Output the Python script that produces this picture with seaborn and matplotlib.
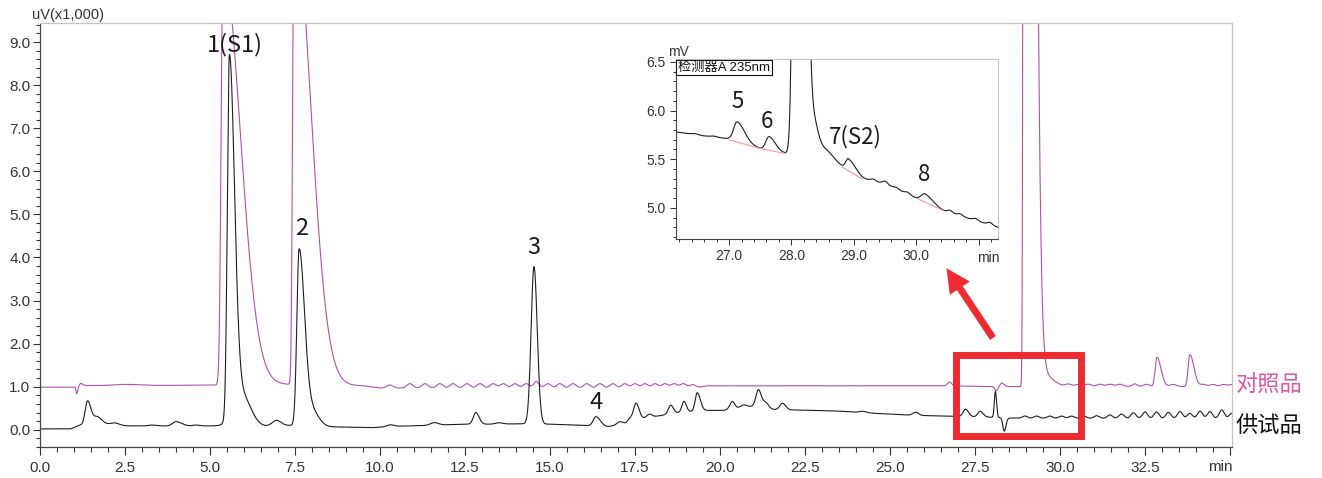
import numpy as np
import pandas as pd
import matplotlib
matplotlib.use("Agg")
import matplotlib.pyplot as plt
from matplotlib.ticker import MultipleLocator, FixedLocator, FuncFormatter
from matplotlib.patches import Rectangle, FancyArrow
from matplotlib.transforms import IdentityTransform
import seaborn as sns

sns.set_style("ticks")
plt.rcParams["font.family"] = ["Liberation Sans", "Noto Sans CJK SC", "DejaVu Sans"]

# ---------------- 供试品 (sample) chromatogram, uV x1,000 ----------------
smp_base_t = [0.0, 0.9, 1.15, 1.3, 2.0, 2.6, 3.5, 5.2, 6.6, 7.35, 8.4, 9.8, 10.4, 11.4,
              12.4, 13.2, 14.3, 15.0, 16.0, 16.7, 17.2, 17.7, 18.1, 18.8, 19.5, 20.1,
              20.6, 21.0, 21.6, 22.2, 23.3, 24.6, 25.3, 26.0, 27.0, 28.0, 28.6, 35.06]
smp_base_v = [0.02, 0.02, 0.10, 0.12, 0.12, 0.09, 0.09, 0.09, 0.08, 0.10, 0.07, 0.05, 0.08, 0.10,
              0.13, 0.13, 0.14, 0.13, 0.10, 0.07, 0.15, 0.25, 0.31, 0.40, 0.45, 0.45,
              0.52, 0.55, 0.47, 0.46, 0.44, 0.38, 0.35, 0.33, 0.31, 0.29, 0.27, 0.26]
smp_pk_t = [1.40, 1.68, 2.20, 3.30, 4.00, 4.60, 5.57, 5.95, 6.95, 7.62, 8.00, 10.30, 11.60,
            12.82, 13.50, 14.53, 16.35, 17.05, 17.35, 17.53, 17.92, 18.55, 18.94, 19.33,
            20.36, 20.70, 21.13, 21.35, 21.84, 24.20, 25.76, 27.22, 27.65, 28.10, 28.36]
smp_pk_h = [0.55, 0.18, 0.05, 0.02, 0.10, 0.02, 8.40, 0.70, 0.13, 4.05, 0.35, 0.04, 0.06,
            0.27, 0.03, 3.65, 0.22, 0.06, 0.08, 0.40, 0.08, 0.20, 0.25, 0.42,
            0.17, 0.05, 0.40, 0.12, 0.15, 0.03, 0.07, 0.17, 0.13, 0.60, -0.31]
smp_pk_wl = [0.07, 0.10, 0.12, 0.10, 0.10, 0.10, 0.059, 0.25, 0.12, 0.065, 0.20, 0.10, 0.12,
             0.075, 0.10, 0.085, 0.08, 0.08, 0.06, 0.075, 0.08, 0.07, 0.06, 0.06,
             0.07, 0.08, 0.07, 0.07, 0.08, 0.10, 0.08, 0.07, 0.07, 0.03, 0.04]
smp_pk_wr = [0.10, 0.14, 0.12, 0.10, 0.16, 0.10, 0.15, 0.25, 0.14, 0.16, 0.20, 0.10, 0.12,
             0.095, 0.10, 0.095, 0.13, 0.08, 0.06, 0.09, 0.08, 0.08, 0.07, 0.09,
             0.07, 0.08, 0.09, 0.08, 0.09, 0.10, 0.08, 0.09, 0.09, 0.035, 0.05]
# baseline ripple crests after 28.5 min
smp_rip_t = [28.97, 29.31, 29.70, 30.05, 30.34, 30.70, 31.08, 31.47, 31.81, 32.16, 32.50,
             32.84, 33.19, 33.53, 33.82, 34.12, 34.41, 34.76, 35.05]
smp_rip_h = [0.05, 0.05, 0.05, 0.05, 0.05, 0.05, 0.06, 0.08, 0.10, 0.13, 0.15,
             0.15, 0.14, 0.16, 0.12, 0.17, 0.16, 0.20, 0.12]

# ---------------- 对照品 (reference) chromatogram ----------------
ref_base_t = [0.0, 1.0, 1.3, 2.0, 5.2, 7.3, 9.5, 10.0, 19.3, 19.6, 26.5, 28.8, 30.2, 35.06]
ref_base_v = [0.99, 0.99, 1.03, 1.02, 1.04, 1.05, 1.02, 0.97, 0.97, 1.02, 1.02, 1.00, 1.01, 1.00]
ref_pk_t = [1.08, 1.20, 2.50, 5.38, 7.47, 14.60, 26.75, 28.12, 28.29, 28.97, 29.55,
            32.20, 32.85, 33.82]
ref_pk_h = [-0.16, 0.06, 0.03, 9.70, 10.80, 0.05, 0.09, -0.10, 0.08, 100.0, 0.25,
            0.06, 0.68, 0.74]
ref_pk_wl = [0.02, 0.04, 0.40, 0.053, 0.04, 0.06, 0.06, 0.04, 0.05, 0.03, 0.15,
             0.07, 0.05, 0.05]
ref_pk_wr = [0.03, 0.05, 0.40, 0.51, 0.49, 0.06, 0.06, 0.05, 0.06, 0.18, 0.25,
             0.07, 0.12, 0.12]
ref_rip_t = [10.29, 10.88, 11.32, 11.76, 12.15, 12.56, 12.94, 13.33, 13.63, 13.97, 14.30,
             14.60, 14.94, 15.29, 15.68, 16.08, 16.47, 16.85, 17.20, 17.50, 17.79, 18.09,
             18.38, 18.65, 18.92, 19.20,
             30.25, 30.55, 30.83, 31.18, 31.47, 31.76, 32.55, 33.33, 34.22, 34.50, 34.80, 35.05]
ref_rip_h = [0.07, 0.10, 0.10, 0.10, 0.10, 0.10, 0.10, 0.10, 0.10, 0.10, 0.10,
             0.10, 0.10, 0.10, 0.10, 0.10, 0.10, 0.10, 0.10, 0.10, 0.10, 0.10,
             0.10, 0.10, 0.10, 0.08,
             0.05, 0.05, 0.05, 0.05, 0.05, 0.05, 0.05, 0.05, 0.05, 0.05, 0.05, 0.05]

# ---------------- enlarged detail, 检测器A 235nm, mV ----------------
ins_base_t = [26.15, 26.6, 27.0, 27.5, 27.9, 28.3, 28.6, 28.81, 29.13, 29.5, 30.0, 30.44, 30.8, 31.31]
ins_base_v = [5.78, 5.74, 5.71, 5.61, 5.56, 5.53, 5.48, 5.42, 5.30, 5.25, 5.10, 4.97, 4.90, 4.80]
ins_pk_t = [26.45, 26.75, 27.13, 27.64, 28.12, 28.35, 28.50, 28.91, 29.31, 29.50, 29.68,
            29.86, 30.14, 30.54, 30.70, 30.95, 31.18]
ins_pk_h = [0.01, 0.01, 0.20, 0.14, 20.0, 0.30, 0.12, 0.12, 0.02, 0.025, 0.015,
            0.02, 0.085, 0.025, 0.02, 0.02, 0.025]
ins_pk_wl = [0.05, 0.05, 0.055, 0.05, 0.053, 0.07, 0.15, 0.04, 0.04, 0.04, 0.04,
             0.04, 0.06, 0.04, 0.04, 0.04, 0.04]
ins_pk_wr = [0.05, 0.05, 0.12, 0.10, 0.075, 0.07, 0.15, 0.12, 0.04, 0.04, 0.04,
             0.04, 0.12, 0.04, 0.04, 0.04, 0.04]
# integration baselines drawn under peaks 5-8
ins_bl_t = [[27.0, 27.5], [27.5, 27.9], [28.81, 29.13], [30.0, 30.44]]
ins_bl_v = [[5.70, 5.61], [5.61, 5.56], [5.42, 5.30], [5.10, 4.97]]

main_labels = ["1(S1)", "2", "3", "4"]
main_label_t = [5.74, 7.68, 14.53, 16.35]
main_label_y = [8.95, 4.67, 4.23, 0.63]
ins_labels = ["5", "6", "7(S2)", "8"]
ins_label_t = [27.14, 27.60, 29.02, 30.13]
ins_label_y = [6.09, 5.89, 5.73, 5.34]


def chromatogram(t, base_t, base_v, pk_t, pk_h, pk_wl, pk_wr):
    """Baseline plus a sum of bi-Gaussian peaks."""
    y = np.interp(t, base_t, base_v)
    for c, h, a, b in zip(pk_t, pk_h, pk_wl, pk_wr):
        s = np.where(t < c, a, b)
        y = y + h * np.exp(-0.5 * ((t - c) / s) ** 2)
    return y


t = np.arange(0.0, 35.06, 0.004)
y_smp = chromatogram(t, smp_base_t, smp_base_v,
                     smp_pk_t + smp_rip_t, smp_pk_h + smp_rip_h,
                     smp_pk_wl + [0.075] * len(smp_rip_t), smp_pk_wr + [0.075] * len(smp_rip_t))
y_ref = chromatogram(t, ref_base_t, ref_base_v,
                     ref_pk_t + ref_rip_t, ref_pk_h + ref_rip_h,
                     ref_pk_wl + [0.09] * len(ref_rip_t), ref_pk_wr + [0.09] * len(ref_rip_t))

df = pd.concat([
    pd.DataFrame({"t": t, "v": y_ref, "trace": "对照品"}),
    pd.DataFrame({"t": t, "v": y_smp, "trace": "供试品"}),
])

ti = np.arange(26.15, 31.31, 0.002)
yi = chromatogram(ti, ins_base_t, ins_base_v, ins_pk_t, ins_pk_h, ins_pk_wl, ins_pk_wr)

W, H = 1322, 478
fig = plt.figure(figsize=(W / 100, H / 100), dpi=100)
fig.patch.set_facecolor("white")

# ---------------- main axes ----------------
ax = fig.add_axes([40 / W, 31 / H, 1192 / W, (447 - 22.7) / H])
sns.lineplot(data=df, x="t", y="v", hue="trace", hue_order=["对照品", "供试品"],
             palette={"对照品": "#b050b0", "供试品": "#1e1e1e"}, linewidth=0.8,
             legend=False, ax=ax, estimator=None, sort=False)
ax.set_xlim(0, 35.06)
ax.set_ylim(-0.4, 9.45)
ax.set_xlabel("")
ax.set_ylabel("")
ax.xaxis.set_major_locator(MultipleLocator(2.5))
ax.xaxis.set_minor_locator(MultipleLocator(0.5))
ax.yaxis.set_major_locator(FixedLocator(np.arange(0, 10)))
ax.yaxis.set_minor_locator(MultipleLocator(0.2))
ax.xaxis.set_major_formatter(FuncFormatter(lambda v, p: "" if v > 34 else f"{v:.1f}"))
ax.yaxis.set_major_formatter(FuncFormatter(lambda v, p: f"{v:.1f}"))
ax.tick_params(axis="both", which="both", direction="out", color="#333333",
               labelcolor="#333333", labelsize=11, width=0.8,
               bottom=True, left=True, top=False, right=False)
ax.tick_params(axis="x", which="major", length=5.8, pad=4)
ax.tick_params(axis="x", which="minor", length=3.5)
ax.tick_params(axis="y", which="major", length=5, pad=2)
ax.tick_params(axis="y", which="minor", length=3)
for side in ("left", "bottom"):
    ax.spines[side].set_color("#444444")
    ax.spines[side].set_linewidth(0.9)
for side in ("top", "right"):
    ax.spines[side].set_visible(True)
    ax.spines[side].set_color("#c4c4c4")
    ax.spines[side].set_linewidth(0.9)

pk_font = dict(family=["Noto Sans CJK SC", "DejaVu Sans"], color="#1a1a1a")
cjk_font = dict(family=["Noto Sans CJK SC", "DejaVu Sans"])
for s, x, y in zip(main_labels, main_label_t, main_label_y):
    ax.text(x, y, s, ha="center", va="center", fontsize=17, **pk_font)

fig.text(32 / W, 1 - 15 / H, "uV(x1,000)", ha="left", va="center", fontsize=10.5, color="#333333")
fig.text(1220 / W, 1 - 467 / H, "min", ha="center", va="center", fontsize=11, color="#333333")
fig.text(1236 / W, 1 - 385 / H, "对照品", ha="left", va="center", fontsize=16,
         color="#e0559f", **cjk_font)
fig.text(1236 / W, 1 - 425 / H, "供试品", ha="left", va="center", fontsize=16,
         color="#111111", **cjk_font)

# ---------------- enlarged detail axes ----------------
ax2 = fig.add_axes([676 / W, (H - 239) / H, 322 / W, 180 / H])
sns.lineplot(x=ti, y=yi, color="#1e1e1e", linewidth=0.8, ax=ax2, estimator=None, sort=False)
for bt, bv in zip(ins_bl_t, ins_bl_v):
    ax2.plot(bt, bv, color="#f29a9a", linewidth=0.8)
ax2.set_xlim(26.15, 31.31)
ax2.set_ylim(4.68, 6.53)
ax2.xaxis.set_major_locator(FixedLocator([27, 28, 29, 30, 31]))
ax2.xaxis.set_minor_locator(MultipleLocator(0.2))
ax2.xaxis.set_major_formatter(FuncFormatter(lambda v, p: "" if v > 30.5 else f"{v:.1f}"))
ax2.yaxis.set_major_locator(FixedLocator([5.0, 5.5, 6.0, 6.5]))
ax2.yaxis.set_minor_locator(MultipleLocator(0.1))
ax2.yaxis.set_major_formatter(FuncFormatter(lambda v, p: f"{v:.1f}"))
ax2.tick_params(axis="both", which="both", direction="out", color="#333333",
                labelcolor="#333333", labelsize=10, width=0.7,
                bottom=True, left=True, top=False, right=False)
ax2.tick_params(axis="both", which="major", length=4.5, pad=3)
ax2.tick_params(axis="both", which="minor", length=2.5)
for side in ("left", "bottom"):
    ax2.spines[side].set_color("#444444")
    ax2.spines[side].set_linewidth(0.8)
for side in ("top", "right"):
    ax2.spines[side].set_visible(True)
    ax2.spines[side].set_color("#c4c4c4")
    ax2.spines[side].set_linewidth(0.8)
for s, x, y in zip(ins_labels, ins_label_t, ins_label_y):
    ax2.text(x, y, s, ha="center", va="center", fontsize=16, **pk_font)
ax2.text(0.006, 0.985, "检测器A 235nm", transform=ax2.transAxes, ha="left", va="top",
         fontsize=9.5, color="#111111",
         bbox=dict(boxstyle="square,pad=0.12", fc="white", ec="#111111", lw=0.8))
fig.text(668 / W, 1 - 52 / H, "mV", ha="left", va="center", fontsize=10, color="#333333")
fig.text(988 / W, 1 - 258 / H, "min", ha="center", va="center", fontsize=10, color="#333333")

# ---------------- highlight box and arrow ----------------
red = "#ee2b30"
fig.add_artist(Rectangle((955.5, H - 435.5), 125, 81, fill=False, ec=red, lw=5.0,
                         transform=IdentityTransform()))
fig.add_artist(FancyArrow(993, H - 338, -46.5, 69.8, width=7, head_width=24, head_length=24,
                          length_includes_head=True, color=red, lw=0,
                          transform=IdentityTransform()))

fig.savefig("out.png", dpi=100, facecolor="white")
